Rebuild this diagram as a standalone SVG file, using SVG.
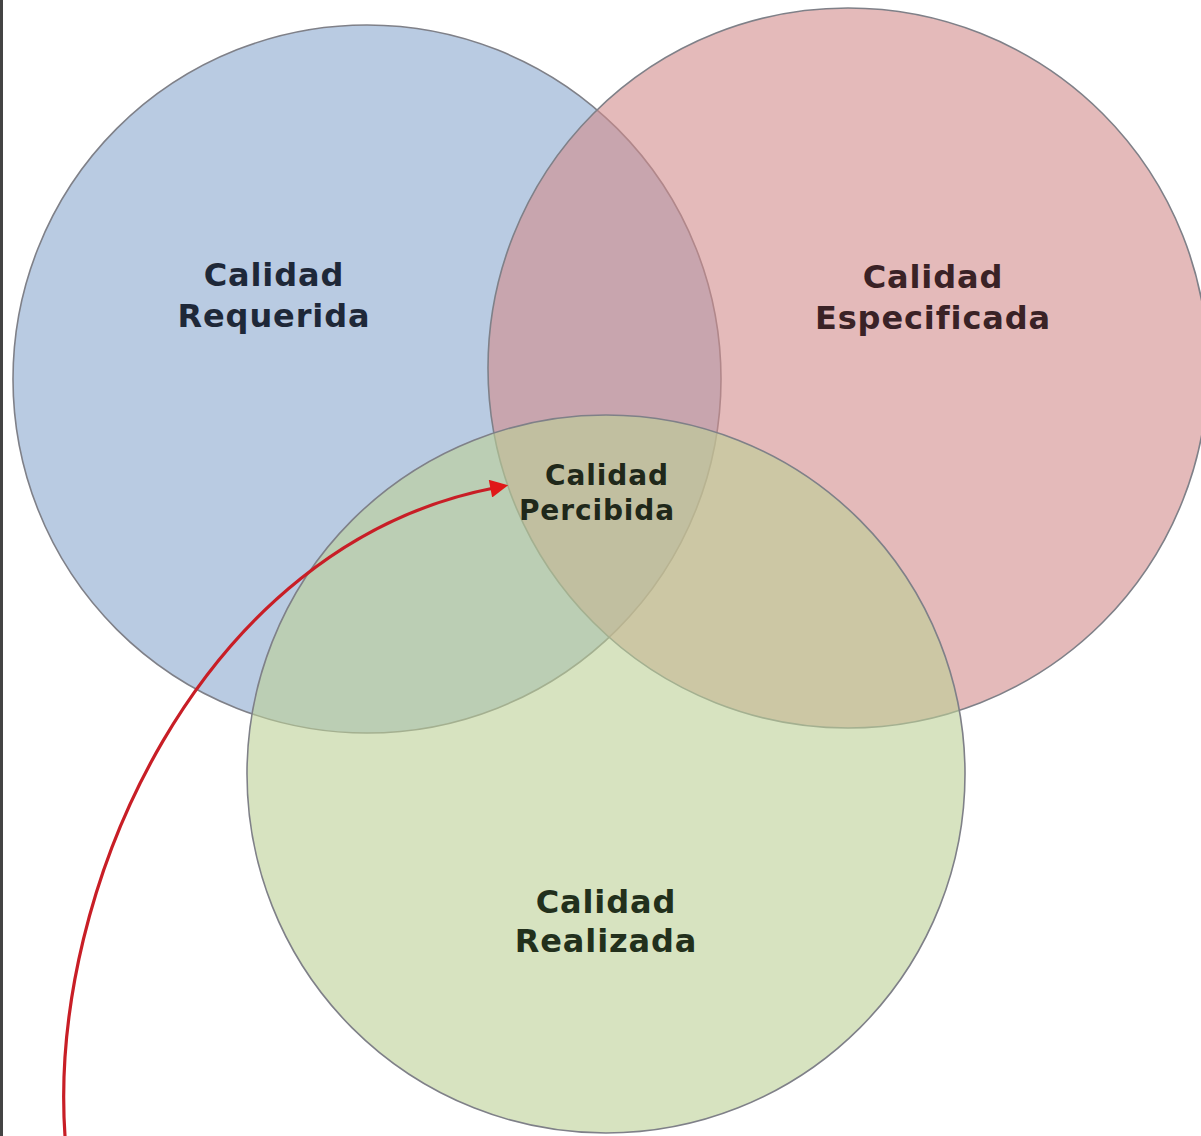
<svg xmlns="http://www.w3.org/2000/svg" width="1201" height="1136" viewBox="0 0 1201 1136">
<style>
.c{stroke:#7f8088;stroke-width:1.6;fill-opacity:0.6}
.t{font-family:"DejaVu Sans",Verdana,sans-serif;font-weight:bold;text-anchor:middle;letter-spacing:0.9px}
</style>
<defs>
<marker id="ah" viewBox="0 0 10 10" refX="2" refY="5" markerWidth="22" markerHeight="18" markerUnits="userSpaceOnUse" orient="auto">
<path d="M0,0 L10,5 L0,10 Z" fill="#e01818"/>
</marker>
</defs>
<rect x="0" y="0" width="1201" height="1136" fill="#ffffff"/>
<rect x="0" y="0" width="3" height="1136" fill="#444444"/>
<g id="requerida">
<circle class="c" cx="367" cy="379" r="354" fill="#8aa8cf"/>
<text class="t" x="274" y="286" font-size="32" fill="#1e2838">Calidad</text>
<text class="t" x="274" y="327" font-size="32" fill="#1e2838">Requerida</text>
</g>
<g id="especificada">
<circle class="c" cx="848" cy="368" r="360" fill="#d28c8c"/>
<text class="t" x="933" y="288" font-size="32" fill="#3a2226">Calidad</text>
<text class="t" x="933" y="329" font-size="32" fill="#3a2226">Especificada</text>
</g>
<g id="realizada">
<circle class="c" cx="606" cy="774" r="359" fill="#bcd096"/>
<text class="t" x="606" y="913" font-size="32" fill="#22301c">Calidad</text>
<text class="t" x="606" y="952" font-size="32" fill="#22301c">Realizada</text>
</g>
<g id="percibida">
<text class="t" x="607" y="485" font-size="28" fill="#20281a">Calidad</text>
<text class="t" x="597" y="520" font-size="28" fill="#20281a">Percibida</text>
</g>
<g id="connectors">
<path d="M65,1136 C48,890 200,545 494,488" fill="none" stroke="#c81e26" stroke-width="3.2" marker-end="url(#ah)"/>
</g>
</svg>
